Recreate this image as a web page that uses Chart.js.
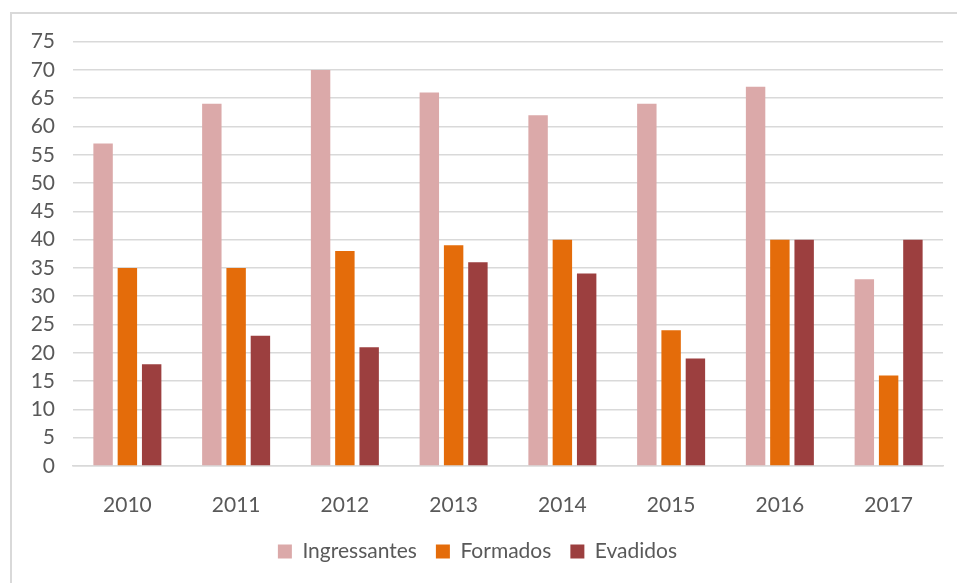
<!DOCTYPE html>
<html>
<head>
<meta charset="utf-8">
<script src="https://cdn.jsdelivr.net/npm/chart.js@4"></script>
<style>
  body { margin: 0; background: #fff; }
  #frame { position: absolute; left: 10px; top: 12px; width: 947px; height: 571px;
           border-top: 2px solid #d9d9d9; border-left: 2px solid #d9d9d9; }
  #myChart { display: block; position: absolute; left: 0; top: -3px; }
</style>
</head>
<body>
<div id="frame"><canvas id="myChart" width="945" height="572"></canvas></div>
<script>
const labels = ['2010', '2011', '2012', '2013', '2014', '2015', '2016', '2017'];

const ingressantes = [57, 64, 70, 66, 62, 64, 67, 33];
const formados = [35, 35, 38, 39, 40, 24, 40, 16];
const evadidos = [18, 23, 21, 36, 34, 19, 40, 40];

const yTicks = [0, 5, 10, 15, 20, 25, 30, 35, 40, 45, 50, 55, 60, 65, 70, 75];

const textColor = '#595959';
const fontFamily = 'Lato, "Open Sans", sans-serif';

const data = {
  labels: labels,
  datasets: [{
    label: 'Ingressantes',
    backgroundColor: '#dba9a9',
    data: ingressantes,
  },
  {
    label: 'Formados',
    backgroundColor: '#e46c0a',
    data: formados,
  },
  {
    label: 'Evadidos',
    backgroundColor: '#9c3f3f',
    data: evadidos,
  }]
};

const config = {
  type: 'bar',
  data: data,
  options: {
    responsive: false,
    animation: false,
    layout: { padding: { top: 19, right: 14, bottom: 11, left: 0 } },
    datasets: {
      bar: { categoryPercentage: 0.67, barPercentage: 0.8 }
    },
    plugins: {
      legend: {
        position: 'bottom',
        labels: {
          boxWidth: 14,
          boxHeight: 14,
          padding: 19,
          color: textColor,
          font: { family: fontFamily, size: 21 }
        }
      },
      tooltip: { enabled: false }
    },
    scales: {
      x: {
        grid: { display: false },
        border: { color: '#d9d9d9', width: 1.5 },
        ticks: { color: textColor, padding: 19, font: { family: fontFamily, size: 21 } },
        afterFit: (s) => { s.height = 56; }
      },
      y: {
        min: 0,
        max: 75,
        afterBuildTicks: (s) => { s.ticks = yTicks.map(v => ({ value: v })); },
        grid: { color: '#d9d9d9', lineWidth: 1.5, drawTicks: false },
        border: { display: false },
        ticks: { color: textColor, padding: 18, autoSkip: false, font: { family: fontFamily, size: 21 } },
        afterFit: (s) => { s.width = 61; }
      }
    }
  }
};

const myChart = new Chart(document.getElementById('myChart'), config);
</script>
</body>
</html>
